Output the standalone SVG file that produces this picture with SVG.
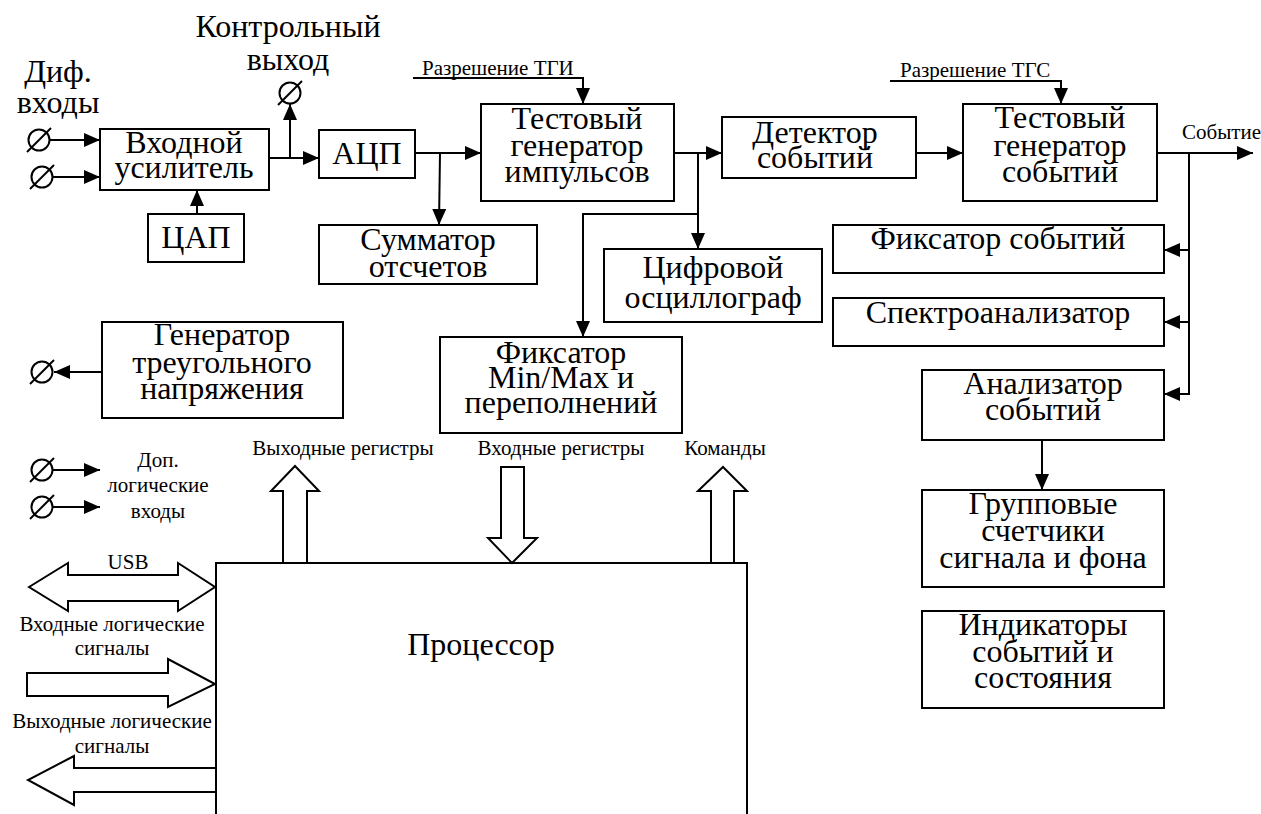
<svg xmlns="http://www.w3.org/2000/svg" width="1261" height="814" viewBox="0 0 1261 814">
<style>
.box{fill:#fff;stroke:#000;stroke-width:2}
.ln{fill:none;stroke:#000;stroke-width:2}
.ba{fill:#fff;stroke:#000;stroke-width:2;stroke-linejoin:miter}
text{font-family:'Times New Roman','Liberation Serif','DejaVu Serif',serif;fill:#000}
.t{font-size:32px;text-anchor:middle}
.s{font-size:21px;text-anchor:middle}
.sl{font-size:21px;text-anchor:start}
.term{fill:none;stroke:#000;stroke-width:2}
</style>
<defs>
<marker id="ar" markerUnits="userSpaceOnUse" markerWidth="16" markerHeight="14" viewBox="0 0 16 14" refX="16" refY="7" orient="auto">
<path d="M0,0 L16,7 L0,14 z" fill="#000"/>
</marker>
<g id="termsym">
<circle cx="0" cy="0" r="10.5" class="term"/>
<line x1="-12" y1="12" x2="12" y2="-12" class="term"/>
</g>
</defs>

<g id="connectors">
<line x1="50" y1="140" x2="100" y2="140" class="ln" marker-end="url(#ar)"/>
<line x1="53" y1="177" x2="100" y2="177" class="ln" marker-end="url(#ar)"/>
<line x1="197" y1="214" x2="197" y2="190" class="ln" marker-end="url(#ar)"/>
<line x1="269" y1="158" x2="319" y2="158" class="ln" marker-end="url(#ar)"/>
<line x1="290" y1="158" x2="290" y2="104" class="ln" marker-end="url(#ar)"/>
<line x1="415" y1="153" x2="481" y2="153" class="ln" marker-end="url(#ar)"/>
<line x1="440" y1="153" x2="439" y2="225" class="ln" marker-end="url(#ar)"/>
<polyline points="413,78 583,78 583,104" class="ln" marker-end="url(#ar)"/>
<line x1="674" y1="153" x2="722" y2="153" class="ln" marker-end="url(#ar)"/>
<line x1="698" y1="153" x2="698" y2="249" class="ln" marker-end="url(#ar)"/>
<polyline points="698,214 583,214 583,337" class="ln" marker-end="url(#ar)"/>
<line x1="916" y1="153" x2="963" y2="153" class="ln" marker-end="url(#ar)"/>
<polyline points="890,81 1061,81 1061,104" class="ln" marker-end="url(#ar)"/>
<line x1="1157" y1="153" x2="1253" y2="153" class="ln" marker-end="url(#ar)"/>
<line x1="1189" y1="153" x2="1189" y2="395" class="ln"/>
<line x1="1189" y1="250" x2="1164" y2="250" class="ln" marker-end="url(#ar)"/>
<line x1="1189" y1="322" x2="1164" y2="322" class="ln" marker-end="url(#ar)"/>
<line x1="1189" y1="394" x2="1164" y2="394" class="ln" marker-end="url(#ar)"/>
<line x1="1042" y1="440" x2="1042" y2="490" class="ln" marker-end="url(#ar)"/>
<line x1="102" y1="372" x2="54" y2="372" class="ln" marker-end="url(#ar)"/>
<line x1="52" y1="470" x2="100" y2="470" class="ln" marker-end="url(#ar)"/>
<line x1="52" y1="507" x2="100" y2="507" class="ln" marker-end="url(#ar)"/>
<polygon points="283,563 283,491 271,491 295,466 319,491 307,491 307,563" class="ba"/>
<polygon points="501,467 524,467 524,538 537,538 512,563 488,538 501,538" class="ba"/>
<polygon points="711,563 711,491 698,491 723,467 747,491 734,491 734,563" class="ba"/>
<polygon points="29,587 68,563 68,575 178,575 178,563 215,587 178,611 178,601 68,601 68,611" class="ba"/>
<polygon points="27,673 168,673 168,659 215,684 168,707 168,696 27,696" class="ba"/>
<polygon points="216,768 74,768 74,756 28,780 74,805 74,792 216,792" class="ba"/>
</g>

<g id="terminals">
<use href="#termsym" x="39" y="140"/>
<use href="#termsym" x="42" y="177"/>
<use href="#termsym" x="290" y="93"/>
<use href="#termsym" x="42" y="372"/>
<use href="#termsym" x="42" y="470"/>
<use href="#termsym" x="42" y="507"/>
</g>

<g id="labels">
<text class="t" x="288" y="37">Контрольный</text>
<text class="t" x="288" y="70">выход</text>
<text class="t" x="58" y="82">Диф.</text>
<text class="t" x="58" y="113">входы</text>
<text class="sl" x="422" y="75">Разрешение ТГИ</text>
<text class="sl" x="900" y="77">Разрешение ТГС</text>
<text class="sl" x="1182" y="139">Событие</text>
<text class="s" x="158" y="467">Доп.</text>
<text class="s" x="158" y="492">логические</text>
<text class="s" x="158" y="518">входы</text>
<text class="s" x="343" y="455">Выходные регистры</text>
<text class="s" x="561" y="455">Входные регистры</text>
<text class="s" x="725" y="455">Команды</text>
<text class="s" x="128" y="569">USB</text>
<text class="s" x="112" y="631">Входные логические</text>
<text class="s" x="112" y="655">сигналы</text>
<text class="s" x="112" y="728">Выходные логические</text>
<text class="s" x="112" y="753">сигналы</text>
</g>

<g id="amp">
<rect x="100" y="129" width="169" height="61" class="box"/>
<text class="t" x="184" y="153">Входной</text>
<text class="t" x="184" y="178">усилитель</text>
</g>
<g id="dac">
<rect x="148" y="214" width="96" height="48" class="box"/>
<text class="t" x="196" y="248">ЦАП</text>
</g>
<g id="adc">
<rect x="319" y="130" width="96" height="48" class="box"/>
<text class="t" x="367" y="164">АЦП</text>
</g>
<g id="summator">
<rect x="319" y="225" width="218" height="59" class="box"/>
<text class="t" x="428" y="250">Сумматор</text>
<text class="t" x="428" y="277">отсчетов</text>
</g>
<g id="tgi">
<rect x="481" y="104" width="193" height="97" class="box"/>
<text class="t" x="577" y="129">Тестовый</text>
<text class="t" x="577" y="156">генератор</text>
<text class="t" x="577" y="182">импульсов</text>
</g>
<g id="detector">
<rect x="722" y="117" width="194" height="61" class="box"/>
<text class="t" x="815" y="143">Детектор</text>
<text class="t" x="815" y="168">событий</text>
</g>
<g id="tgs">
<rect x="963" y="104" width="194" height="97" class="box"/>
<text class="t" x="1060" y="128">Тестовый</text>
<text class="t" x="1060" y="156">генератор</text>
<text class="t" x="1060" y="182">событий</text>
</g>
<g id="oscilloscope">
<rect x="604" y="249" width="218" height="73" class="box"/>
<text class="t" x="713" y="278">Цифровой</text>
<text class="t" x="713" y="308">осциллограф</text>
</g>
<g id="minmax">
<rect x="440" y="337" width="242" height="96" class="box"/>
<text class="t" x="561" y="363">Фиксатор</text>
<text class="t" x="561" y="388">Min/Max и</text>
<text class="t" x="561" y="413">переполнений</text>
</g>
<g id="eventfix">
<rect x="833" y="225" width="331" height="48" class="box"/>
<text class="t" x="998" y="249">Фиксатор событий</text>
</g>
<g id="spectro">
<rect x="833" y="298" width="331" height="48" class="box"/>
<text class="t" x="998" y="323">Спектроанализатор</text>
</g>
<g id="analyzer">
<rect x="922" y="370" width="242" height="70" class="box"/>
<text class="t" x="1043" y="394">Анализатор</text>
<text class="t" x="1043" y="420">событий</text>
</g>
<g id="counters">
<rect x="922" y="490" width="242" height="97" class="box"/>
<text class="t" x="1043" y="514">Групповые</text>
<text class="t" x="1043" y="541">счетчики</text>
<text class="t" x="1043" y="568">сигнала и фона</text>
</g>
<g id="indicators">
<rect x="922" y="611" width="242" height="97" class="box"/>
<text class="t" x="1043" y="635">Индикаторы</text>
<text class="t" x="1043" y="662">событий и</text>
<text class="t" x="1043" y="688">состояния</text>
</g>
<g id="trigen">
<rect x="102" y="322" width="241" height="96" class="box"/>
<text class="t" x="222" y="345">Генератор</text>
<text class="t" x="222" y="373">треугольного</text>
<text class="t" x="222" y="399">напряжения</text>
</g>
<g id="processor">
<path d="M216,820 V563 H747 V820" class="ln"/>
<text class="t" x="481" y="655">Процессор</text>
</g>
</svg>
